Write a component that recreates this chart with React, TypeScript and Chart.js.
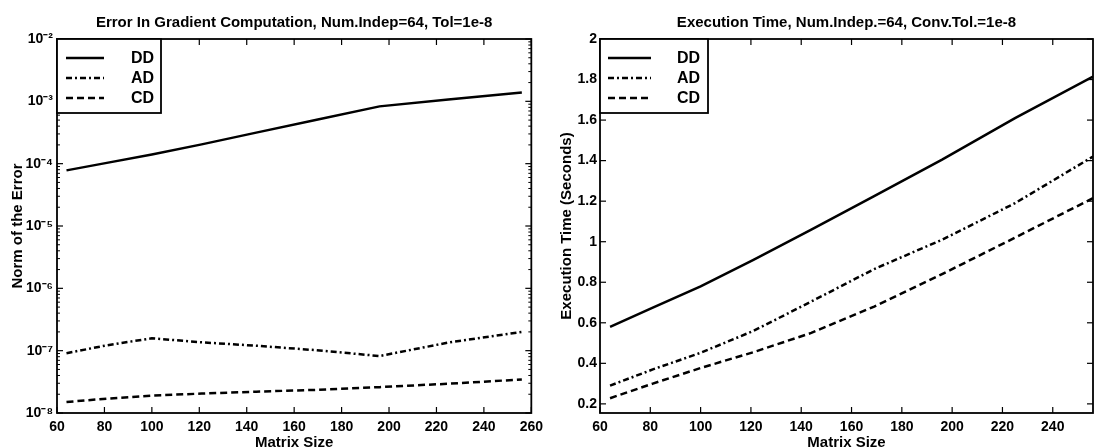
import React, { useEffect, useRef } from "react";
import { Chart, registerables } from "chart.js";

Chart.register(...registerables);

// ---------- data ----------
const matrixSizes = [64, 81, 100, 121, 144, 169, 196, 225, 256];

const errorDD = [7.8e-5, 1.03e-4, 1.4e-4, 2.04e-4, 3.15e-4, 5.0e-4, 8.3e-4, 1.07e-3, 1.38e-3];
const errorAD = [9.1e-8, 1.22e-7, 1.58e-7, 1.36e-7, 1.2e-7, 1.02e-7, 8.2e-8, 1.35e-7, 2.0e-7];
const errorCD = [1.5e-8, 1.7e-8, 1.9e-8, 2.05e-8, 2.2e-8, 2.35e-8, 2.6e-8, 2.95e-8, 3.45e-8];

const timeDD = [0.58, 0.675, 0.78, 0.91, 1.06, 1.225, 1.405, 1.61, 1.815];
const timeAD = [0.29, 0.37, 0.452, 0.56, 0.705, 0.865, 1.01, 1.19, 1.42];
const timeCD = [0.228, 0.3, 0.377, 0.455, 0.55, 0.68, 0.84, 1.02, 1.215];

const seriesLabels = ["DD", "AD", "CD"];

const sizeTicksLeft = [60, 80, 100, 120, 140, 160, 180, 200, 220, 240, 260];
const sizeTicksRight = [60, 80, 100, 120, 140, 160, 180, 200, 220, 240];

const errorTicks = [1e-8, 1e-7, 1e-6, 1e-5, 1e-4, 1e-3, 1e-2];
const errorTickLabels = ["10⁻⁸", "10⁻⁷", "10⁻⁶", "10⁻⁵", "10⁻⁴", "10⁻³", "10⁻²"];

const timeTicks = [0.2, 0.4, 0.6, 0.8, 1, 1.2, 1.4, 1.6, 1.8, 2];
const timeTickLabels = ["0.2", "0.4", "0.6", "0.8", "1", "1.2", "1.4", "1.6", "1.8", "2"];

const leftTitle = "Error In Gradient Computation, Num.Indep=64, Tol=1e-8";
const rightTitle = "Execution Time, Num.Indep.=64, Conv.Tol.=1e-8";
const xAxisTitle = "Matrix Size";
const leftYTitle = "Norm of the Error";
const rightYTitle = "Execution Time (Seconds)";

// ---------- styles ----------
const FONT = "'Liberation Sans', Arial, Helvetica, sans-serif";
const seriesDashes: number[][] = [[], [6, 3, 2, 3], [7, 4]];
const CANVAS_W = 549;
const CANVAS_H = 460;

const tickFont = { family: FONT, size: 14, weight: "bold" as const };
const titleFont = { family: FONT, size: 15, weight: "bold" as const };

const makeDatasets = (series: number[][]) =>
  series.map((vals, i) => ({
    label: seriesLabels[i],
    data: matrixSizes.map((x, j) => ({ x, y: vals[j] })),
    borderColor: "#000",
    backgroundColor: "#000",
    borderWidth: 2.5,
    borderDash: seriesDashes[i],
    pointRadius: 0,
    fill: false,
    tension: 0,
  }));

const framePlugin = {
  id: "frame",
  afterDatasetsDraw(chart: any) {
    const { ctx, chartArea: a } = chart;
    const xs = chart.scales.x;
    const ys = chart.scales.y;
    ctx.save();
    ctx.strokeStyle = "#000";
    ctx.setLineDash([]);
    ctx.lineWidth = 1.2;
    const seg = (x1: number, y1: number, x2: number, y2: number) => {
      ctx.beginPath();
      ctx.moveTo(x1, y1);
      ctx.lineTo(x2, y2);
      ctx.stroke();
    };
    const major = 6;
    const minor = 3;
    xs.ticks.forEach((t: any) => {
      const p = xs.getPixelForValue(t.value);
      seg(p, a.bottom, p, a.bottom - major);
      seg(p, a.top, p, a.top + major);
    });
    ys.ticks.forEach((t: any) => {
      const p = ys.getPixelForValue(t.value);
      seg(a.left, p, a.left + major, p);
      seg(a.right, p, a.right - major, p);
    });
    if (ys.type === "logarithmic") {
      const e0 = Math.floor(Math.log10(ys.min));
      const e1 = Math.ceil(Math.log10(ys.max));
      ctx.lineWidth = 1;
      for (let e = e0; e < e1; e++) {
        for (let k = 2; k <= 9; k++) {
          const p = ys.getPixelForValue(k * Math.pow(10, e));
          seg(a.left, p, a.left + minor, p);
          seg(a.right, p, a.right - minor, p);
        }
      }
    }
    ctx.lineWidth = 1.8;
    ctx.strokeRect(a.left, a.top, a.right - a.left, a.bottom - a.top);
    ctx.restore();
  },
};

const boxLegendPlugin = {
  id: "boxLegend",
  afterDraw(chart: any, _args: any, opts: any) {
    const { ctx, chartArea: a } = chart;
    const left = a.left;
    const top = a.top;
    ctx.save();
    ctx.fillStyle = "#fff";
    ctx.fillRect(left, top, opts.width, opts.height);
    ctx.strokeStyle = "#000";
    ctx.lineWidth = 1.8;
    ctx.setLineDash([]);
    ctx.strokeRect(left, top, opts.width, opts.height);
    chart.data.datasets.forEach((ds: any, i: number) => {
      const y = top + opts.rowStart + i * opts.rowGap;
      ctx.setLineDash(ds.borderDash || []);
      ctx.lineWidth = ds.borderWidth;
      ctx.beginPath();
      ctx.moveTo(left + opts.lineStart, y);
      ctx.lineTo(left + opts.lineEnd, y);
      ctx.stroke();
      ctx.setLineDash([]);
      ctx.fillStyle = "#000";
      ctx.font = `bold ${opts.fontSize}px ${FONT}`;
      ctx.textAlign = "right";
      ctx.textBaseline = "middle";
      ctx.fillText(ds.label, left + opts.width - opts.textPad, y + 1);
    });
    ctx.restore();
  },
};

const baseOptions = (title: string, padRight: number) => ({
  responsive: false,
  animation: false as const,
  layout: { padding: { left: 0, right: padRight, top: 0, bottom: 0 } },
  plugins: {
    legend: { display: false },
    tooltip: { enabled: false },
    title: {
      display: true,
      text: title,
      color: "#000",
      font: titleFont,
      fullSize: false,
      padding: { top: 14, bottom: 7 },
    },
  },
});

const leftConfig = (): any => ({
  type: "line",
  data: { datasets: makeDatasets([errorDD, errorAD, errorCD]) },
  plugins: [framePlugin, boxLegendPlugin],
  options: {
    ...baseOptions(leftTitle, 12),
    plugins: {
      ...baseOptions(leftTitle, 12).plugins,
      boxLegend: { width: 104, height: 74, rowStart: 19, rowGap: 20, lineStart: 9, lineEnd: 47, textPad: 7, fontSize: 16 },
    },
    scales: {
      x: {
        type: "linear",
        min: 60,
        max: 260,
        afterBuildTicks: (s: any) => {
          s.ticks = sizeTicksLeft.map((v) => ({ value: v }));
        },
        afterFit: (s: any) => {
          s.height = CANVAS_H - 413;
        },
        grid: { display: false, drawTicks: false },
        border: { display: false },
        ticks: { color: "#000", font: tickFont, padding: 6, maxRotation: 0, autoSkip: false },
        title: { display: true, text: xAxisTitle, color: "#000", font: titleFont, padding: { top: 0, bottom: 8 } },
      },
      y: {
        type: "logarithmic",
        min: 1e-8,
        max: 1e-2,
        afterBuildTicks: (s: any) => {
          s.ticks = errorTicks.map((v) => ({ value: v }));
        },
        afterFit: (s: any) => {
          s.width = 57;
        },
        grid: { display: false, drawTicks: false },
        border: { display: false },
        ticks: {
          color: "#000",
          font: tickFont,
          padding: 4,
          autoSkip: false,
          callback: (_v: any, i: number) => errorTickLabels[i],
        },
        title: { display: true, text: leftYTitle, color: "#000", font: titleFont, padding: { top: 9, bottom: 0 } },
      },
    },
  },
});

const rightConfig = (): any => ({
  type: "line",
  data: { datasets: makeDatasets([timeDD, timeAD, timeCD]) },
  plugins: [framePlugin, boxLegendPlugin],
  options: {
    ...baseOptions(rightTitle, 5),
    plugins: {
      ...baseOptions(rightTitle, 5).plugins,
      boxLegend: { width: 108, height: 74, rowStart: 19, rowGap: 20, lineStart: 8, lineEnd: 51, textPad: 8, fontSize: 16 },
    },
    scales: {
      x: {
        type: "linear",
        min: 60,
        max: 256,
        afterBuildTicks: (s: any) => {
          s.ticks = sizeTicksRight.map((v) => ({ value: v }));
        },
        afterFit: (s: any) => {
          s.height = CANVAS_H - 413;
        },
        grid: { display: false, drawTicks: false },
        border: { display: false },
        ticks: { color: "#000", font: tickFont, padding: 6, maxRotation: 0, autoSkip: false },
        title: { display: true, text: xAxisTitle, color: "#000", font: titleFont, padding: { top: 0, bottom: 8 } },
      },
      y: {
        type: "linear",
        min: 0.155,
        max: 2,
        afterBuildTicks: (s: any) => {
          s.ticks = timeTicks.map((v) => ({ value: v }));
        },
        afterFit: (s: any) => {
          s.width = 51;
        },
        grid: { display: false, drawTicks: false },
        border: { display: false },
        ticks: {
          color: "#000",
          font: tickFont,
          padding: 3,
          autoSkip: false,
          callback: (_v: any, i: number) => timeTickLabels[i],
        },
        title: { display: true, text: rightYTitle, color: "#000", font: titleFont, padding: { top: 9, bottom: 0 } },
      },
    },
  },
});

function ChartCanvas({ makeConfig, left }: { makeConfig: () => any; left: number }) {
  const ref = useRef<HTMLCanvasElement>(null);
  useEffect(() => {
    const chart = new Chart(ref.current as HTMLCanvasElement, makeConfig());
    return () => chart.destroy();
  }, [makeConfig]);
  return (
    <canvas
      ref={ref}
      width={CANVAS_W}
      height={CANVAS_H}
      style={{ position: "absolute", left, top: 0, width: CANVAS_W, height: CANVAS_H }}
    />
  );
}

export default function App() {
  return (
    <div
      style={{
        position: "absolute",
        left: 0,
        top: 0,
        width: 1098,
        height: 448,
        overflow: "hidden",
        background: "#fff",
      }}
    >
      <ChartCanvas makeConfig={leftConfig} left={0} />
      <ChartCanvas makeConfig={rightConfig} left={549} />
    </div>
  );
}
